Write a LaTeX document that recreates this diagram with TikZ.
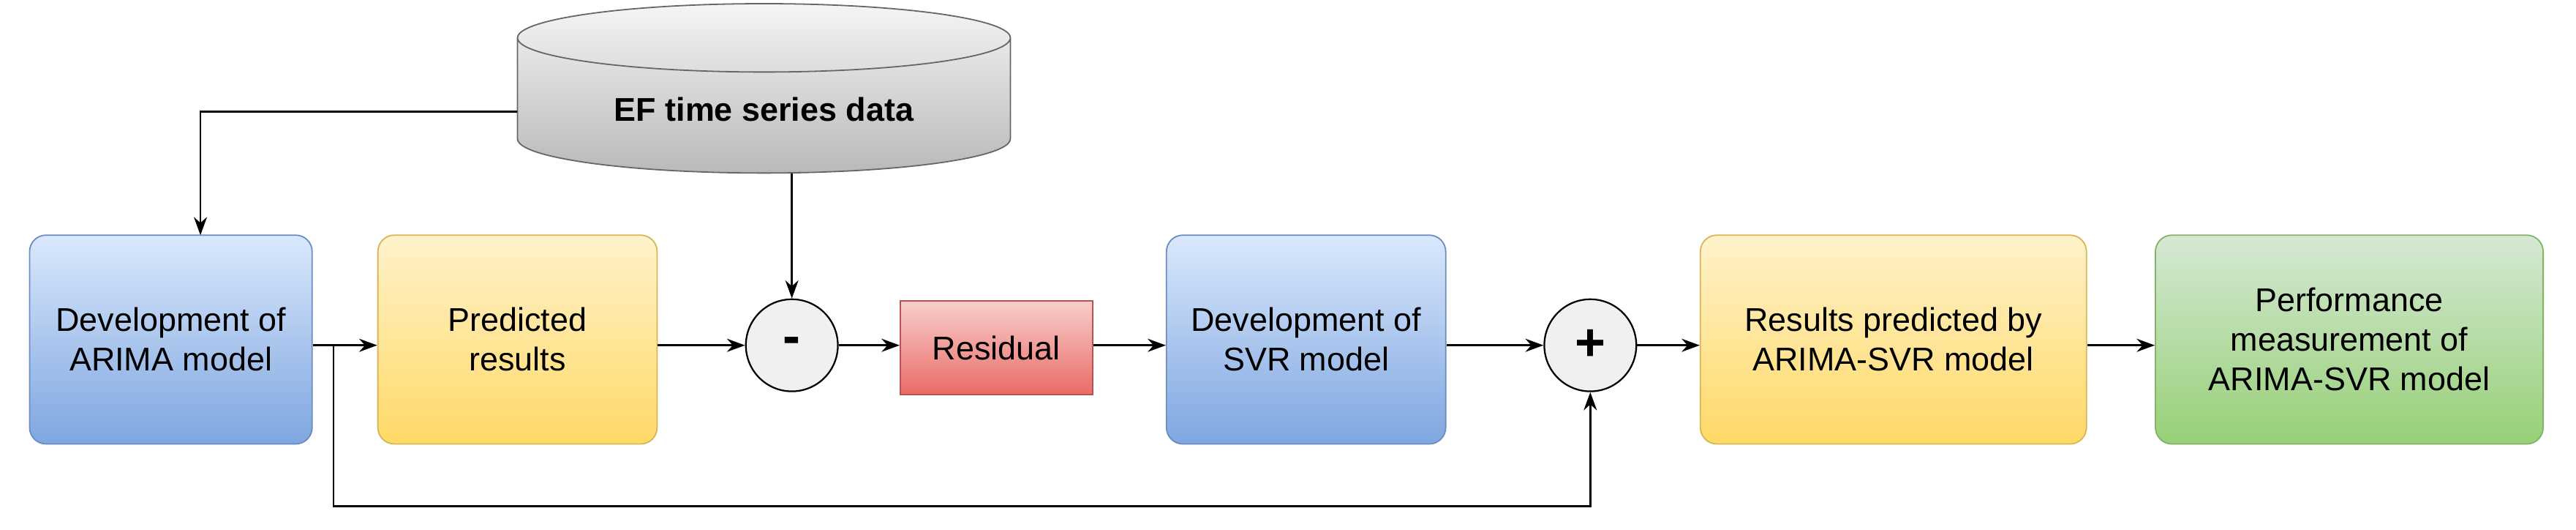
\documentclass[tikz,border=0pt]{standalone}
\usepackage{fontspec}
\setmainfont{Liberation Sans}
\usetikzlibrary{shapes.geometric,arrows.meta}
\definecolor{bt}{HTML}{DAE8FC}\definecolor{bb}{HTML}{7EA6E0}\definecolor{bd}{HTML}{6C8EBF}
\definecolor{yt}{HTML}{FFF2CC}\definecolor{yb}{HTML}{FFD966}\definecolor{yd}{HTML}{D6B656}
\definecolor{gt}{HTML}{D5E8D4}\definecolor{gb}{HTML}{97D077}\definecolor{gd}{HTML}{82B366}
\definecolor{rt}{HTML}{F8CECC}\definecolor{rb}{HTML}{EA6B66}\definecolor{rd}{HTML}{B85450}
\begin{document}
\begin{tikzpicture}[x=1pt,y=-1pt,
 box/.style={rounded corners=10pt,minimum height=127pt,align=center,font=\fontsize{20}{24}\selectfont,line width=0.8pt},
 blue/.style={box,draw=bd,top color=bt,bottom color=bb},
 yel/.style={box,draw=yd,top color=yt,bottom color=yb},
 grn/.style={box,draw=gd,top color=gt,bottom color=gb},
 op/.style={circle,draw,line width=1pt,fill=gray!12,minimum size=56pt,inner sep=0pt,font=\fontsize{32}{32}\bfseries\selectfont},
 arr/.style={-{Stealth[length=11pt,width=8pt]},line width=1.2pt}]
\useasboundingbox (0,0) rectangle (1568,322);
\node[cylinder,shape border rotate=90,aspect=0.22,draw=black!60,line width=0.8pt,top color=gray!8,bottom color=gray!55,minimum width=300pt,minimum height=103pt,font=\fontsize{20}{24}\bfseries\selectfont] (cyl) at (465,66.5) {EF time series data};
\node[blue,minimum width=172pt] (b1) at (104,206.5) {Development of\\ARIMA model};
\node[yel,minimum width=170pt] (b2) at (315,206.5) {Predicted\\results};
\node[op] (minus) at (482,210) {-};
\node[box,rounded corners=0pt,minimum width=117pt,minimum height=57pt,draw=rd,top color=rt,bottom color=rb] (res) at (606.5,211.5) {Residual};
\node[blue,minimum width=170pt] (b3) at (795,206.5) {Development of\\SVR model};
\node[op] (plus) at (968,210) {+};
\node[yel,minimum width=235pt] (b4) at (1152.5,206.5) {Results predicted by\\ARIMA-SVR model};
\node[grn,minimum width=236pt] (b5) at (1430,206.5) {Performance\\measurement of\\ARIMA-SVR model};
\coordinate (t) at (203,210);
\draw[arr] (b1.east |- t) -- (b2.west |- t);
\draw[arr] (b2.east |- minus) -- (minus);
\draw[arr] (minus) -- (res.west |- minus);
\draw[arr] (res.east |- minus) -- (b3.west |- minus);
\draw[arr] (b3.east |- plus) -- (plus);
\draw[arr] (plus) -- (b4.west |- plus);
\draw[arr] (b4.east |- plus) -- (b5.west |- plus);
\draw[arr] (minus |- cyl.bottom) -- (minus);
\draw[arr] (cyl.west |- 0,68) -- (122,68) -- (122,143);
\draw[arr] (t) -- (203,308) -- (968,308) -- (plus);
\end{tikzpicture}
\end{document}
